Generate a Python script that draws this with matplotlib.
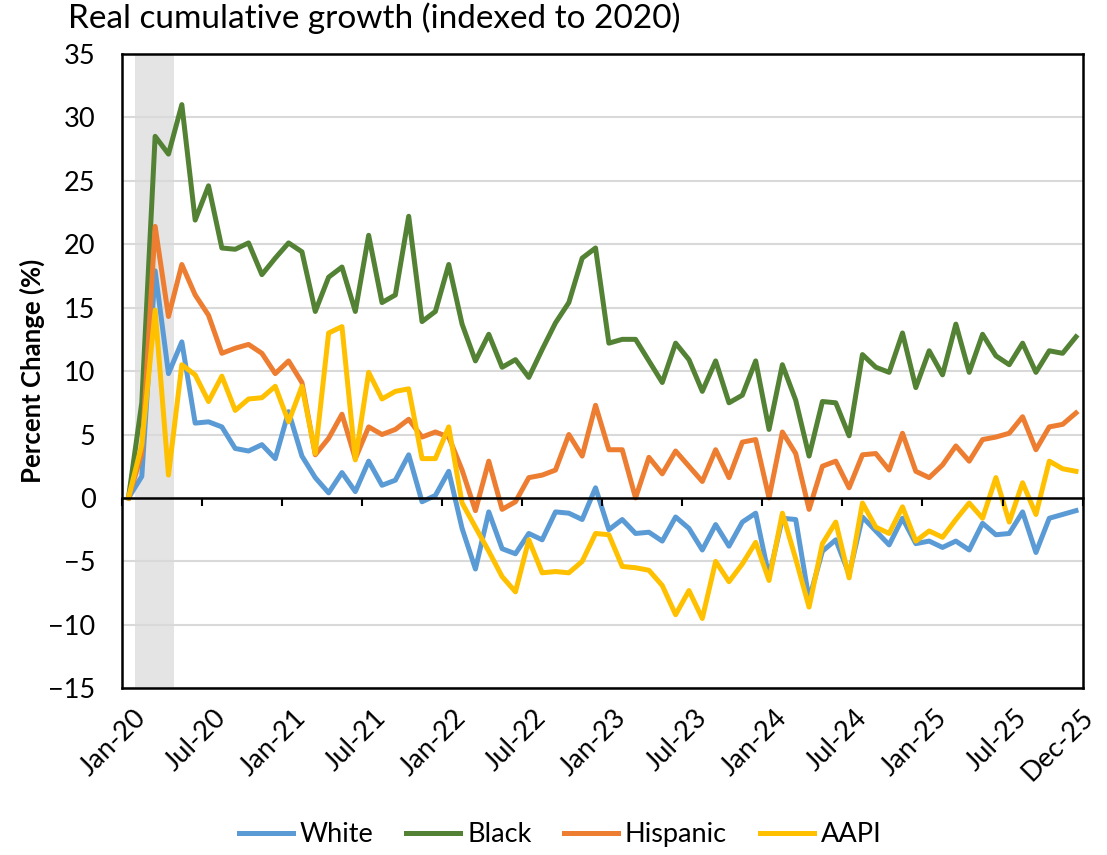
import matplotlib
matplotlib.use('Agg')
import matplotlib.pyplot as plt
import matplotlib.transforms as mtransforms

plt.rcParams['font.family'] = ['Lato', 'DejaVu Sans']

# monthly, Jan-20 .. Dec-25
months = list(range(72))
tick_idx = [0, 6, 12, 18, 24, 30, 36, 42, 48, 54, 60, 66, 71]
tick_labels = ['Jan-20', 'Jul-20', 'Jan-21', 'Jul-21', 'Jan-22', 'Jul-22', 'Jan-23',
               'Jul-23', 'Jan-24', 'Jul-24', 'Jan-25', 'Jul-25', 'Dec-25']

white = [0.0, 1.7, 17.9, 9.8, 12.3, 5.9, 6.0, 5.6, 3.9, 3.7, 4.2, 3.1,
         6.8, 3.3, 1.6, 0.4, 2.0, 0.5, 2.9, 1.0, 1.4, 3.4, -0.3, 0.2,
         2.1, -2.4, -5.6, -1.1, -4.0, -4.4, -2.8, -3.3, -1.1, -1.2, -1.7, 0.8,
         -2.5, -1.7, -2.8, -2.7, -3.4, -1.5, -2.4, -4.1, -2.1, -3.8, -1.9, -1.2,
         -6.2, -1.6, -1.7, -8.0, -4.2, -3.3, -6.0, -1.5, -2.6, -3.7, -1.6, -3.6,
         -3.4, -3.9, -3.4, -4.1, -2.0, -2.9, -2.8, -1.1, -4.3, -1.6, -1.3, -1.0]

black = [0.0, 7.5, 28.5, 27.1, 31.0, 21.9, 24.6, 19.7, 19.6, 20.1, 17.6, 18.9,
         20.1, 19.4, 14.7, 17.4, 18.2, 14.7, 20.7, 15.4, 16.0, 22.2, 13.9, 14.7,
         18.4, 13.7, 10.8, 12.9, 10.3, 10.9, 9.5, 11.7, 13.8, 15.4, 18.9, 19.7,
         12.2, 12.5, 12.5, 10.8, 9.1, 12.2, 10.9, 8.4, 10.8, 7.5, 8.1, 10.8,
         5.4, 10.5, 7.7, 3.3, 7.6, 7.5, 4.9, 11.3, 10.3, 9.9, 13.0, 8.7,
         11.6, 9.7, 13.7, 9.9, 12.9, 11.2, 10.5, 12.2, 9.9, 11.6, 11.4, 12.7]

hispanic = [0.0, 3.5, 21.4, 14.3, 18.4, 16.0, 14.4, 11.4, 11.8, 12.1, 11.4, 9.8,
            10.8, 9.1, 3.4, 4.7, 6.6, 3.1, 5.6, 5.0, 5.4, 6.2, 4.8, 5.2,
            4.8, 2.2, -1.0, 2.9, -0.9, -0.3, 1.6, 1.8, 2.2, 5.0, 3.3, 7.3,
            3.8, 3.8, 0.0, 3.2, 1.9, 3.7, 2.5, 1.3, 3.8, 1.6, 4.4, 4.6,
            0.0, 5.2, 3.5, -0.9, 2.5, 2.9, 0.8, 3.4, 3.5, 2.2, 5.1, 2.1,
            1.6, 2.6, 4.1, 2.9, 4.6, 4.8, 5.1, 6.4, 3.8, 5.6, 5.8, 6.7]

aapi = [0.0, 4.2, 14.8, 1.8, 10.5, 9.7, 7.6, 9.6, 6.9, 7.8, 7.9, 8.8,
        6.0, 8.8, 3.5, 13.0, 13.5, 3.0, 9.9, 7.8, 8.4, 8.6, 3.1, 3.1,
        5.6, -0.4, -2.3, -4.2, -6.2, -7.4, -3.3, -5.9, -5.8, -5.9, -5.0, -2.8,
        -2.9, -5.4, -5.5, -5.7, -6.9, -9.2, -7.3, -9.5, -5.0, -6.6, -5.2, -3.5,
        -6.5, -1.2, -4.8, -8.6, -3.6, -1.9, -6.3, -0.4, -2.3, -2.8, -0.7, -3.4,
        -2.6, -3.1, -1.7, -0.4, -1.6, 1.6, -1.9, 1.2, -1.3, 2.9, 2.3, 2.1]

fig = plt.figure(figsize=(11.07, 8.55), dpi=100)
ax = fig.add_axes([0.110, 0.195, 0.868, 0.742])

# recession shading
ax.axvspan(0.48, 3.4, color='#E4E4E4', lw=0, zorder=0)

lw = 3.6
ax.plot(months, white, color='#5B9BD5', lw=lw, label='White', zorder=3)
ax.plot(months, black, color='#548235', lw=lw, label='Black', zorder=3)
ax.plot(months, hispanic, color='#ED7D31', lw=lw, label='Hispanic', zorder=3)
ax.plot(months, aapi, color='#FFC000', lw=lw, label='AAPI', zorder=3)

ax.set_xlim(-0.5, 71.5)
ax.set_ylim(-15, 35)
ax.set_yticks(range(-15, 36, 5))
ax.yaxis.grid(True, color='#D9D9D9', lw=1.5, zorder=1)
ax.set_axisbelow(True)
ax.tick_params(axis='y', length=0, labelsize=19.5, pad=19)
ax.set_ylabel('Percent Change (%)', fontsize=18.5, fontweight='bold', labelpad=2)

ax.set_xticks(tick_idx)
ax.set_xticklabels(tick_labels, rotation=45, ha='right', va='top',
                   rotation_mode='anchor', fontsize=19.5)
ax.tick_params(axis='x', length=0, pad=12)
shift = mtransforms.ScaledTranslation(5 / 100, 0, fig.dpi_scale_trans)
for lab in ax.get_xticklabels():
    lab.set_transform(lab.get_transform() + shift)
for s in ax.spines.values():
    s.set_linewidth(1.8)
    s.set_color('black')

# zero axis with tick marks at month boundaries
ax2 = ax.twiny()
ax2.set_xlim(ax.get_xlim())
ax2.xaxis.set_ticks_position('bottom')
ax2.spines['bottom'].set_position(('data', 0))
for side in ['top', 'left', 'right']:
    ax2.spines[side].set_visible(False)
ax2.spines['bottom'].set_linewidth(1.8)
ax2.set_xticks([i - 0.5 for i in tick_idx[:-1]] + [71.5])
ax2.set_xticklabels([])
ax2.tick_params(axis='x', direction='out', length=6, width=1.5)

fig.text(0.061, 0.997, 'Real cumulative growth (indexed to 2020)', fontsize=24,
         ha='left', va='top')

fig.legend(loc='center', bbox_to_anchor=(0.506, 0.024), ncol=4, frameon=False,
           fontsize=19.5, handlelength=2.0, columnspacing=1.2, handletextpad=0.25)

fig.savefig('out.png', dpi=100)
